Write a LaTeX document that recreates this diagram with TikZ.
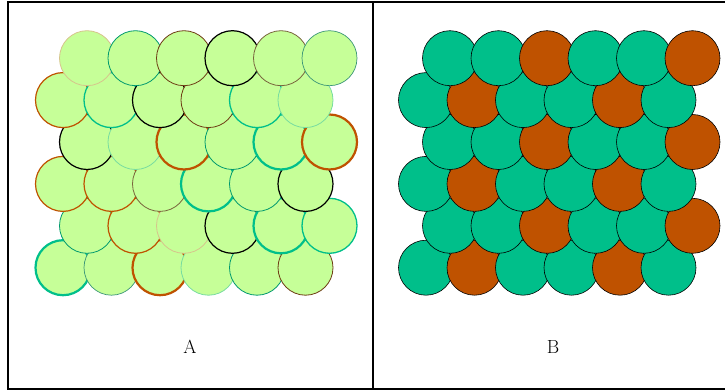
\documentclass[tikz,border=0pt]{standalone}
\usepackage{fontspec}
\setmainfont{Latin Modern Roman}
\begin{document}
\begin{tikzpicture}[x=1pt,y=-1pt,
  base/.style={circle,inner sep=0pt,minimum size=55pt},
  acirc/.style={base,fill=lightg},
  bcirc/.style={base,draw=black,line width=0.6pt},
  fg/.style={fill=sea},
  fb/.style={fill=rust},
  bm/.style={draw=rust,line width=1.2pt},
  bk/.style={draw=rust,line width=2.2pt},
  gt/.style={draw=sea!80!black,line width=0.8pt},
  gm/.style={draw=sea,line width=1.3pt},
  gk/.style={draw=sea,line width=2.2pt},
  km/.style={draw=black,line width=1.2pt},
  pt/.style={draw=tan,line width=0.8pt},
  lg/.style={draw=paleg,line width=0.8pt},
  db/.style={draw=dbrown,line width=0.8pt},
  ol/.style={draw=olive2,line width=0.8pt},
  tg/.style={draw=tealg,line width=0.7pt},
  frame/.style={line width=2pt},
  lab/.style={font=\fontsize{19}{22}\selectfont}
]
\definecolor{lightg}{RGB}{198,255,152}
\definecolor{sea}{RGB}{0,191,138}
\definecolor{rust}{RGB}{191,82,0}
\definecolor{tan}{RGB}{214,196,140}
\definecolor{paleg}{RGB}{120,220,160}
\definecolor{dbrown}{RGB}{110,60,20}
\definecolor{olive2}{RGB}{120,100,60}
\definecolor{tealg}{RGB}{60,150,120}
\useasboundingbox (0,0) rectangle (725,390);
% frame
\draw[frame] (725,2) -- (8,2) -- (8,389) -- (725,389);
\draw[frame] (373,2) -- (373,389);
% panel A (drawn bottom row first)
\foreach \st [count=\i] in {gk,tg,bk,lg,gt,db}
  \node[acirc,\st] (a6\i) at ({63+(\i-1)*48.5},267.7) {};
\foreach \st [count=\i] in {gt,bm,pt,km,gk,gm}
  \node[acirc,\st] (a5\i) at ({87+(\i-1)*48.5},225.8) {};
\foreach \st [count=\i] in {bm,bm,ol,gk,gt,km}
  \node[acirc,\st] (a4\i) at ({63+(\i-1)*48.5},183.9) {};
\foreach \st [count=\i] in {km,lg,bk,gt,gk,bk}
  \node[acirc,\st] (a3\i) at ({87+(\i-1)*48.5},142) {};
\foreach \st [count=\i] in {bm,gm,km,db,gm,lg}
  \node[acirc,\st] (a2\i) at ({63+(\i-1)*48.5},100.1) {};
\foreach \st [count=\i] in {pt,gt,db,km,ol,tg}
  \node[acirc,\st] (a1\i) at ({87+(\i-1)*48.5},58.2) {};
% panel B
\foreach \st [count=\i] in {fg,fb,fg,fg,fb,fg}
  \node[bcirc,\st] (b6\i) at ({426+(\i-1)*48.5},267.7) {};
\foreach \st [count=\i] in {fg,fg,fb,fg,fg,fb}
  \node[bcirc,\st] (b5\i) at ({450+(\i-1)*48.5},225.8) {};
\foreach \st [count=\i] in {fg,fb,fg,fg,fb,fg}
  \node[bcirc,\st] (b4\i) at ({426+(\i-1)*48.5},183.9) {};
\foreach \st [count=\i] in {fg,fg,fb,fg,fg,fb}
  \node[bcirc,\st] (b3\i) at ({450+(\i-1)*48.5},142) {};
\foreach \st [count=\i] in {fg,fb,fg,fg,fb,fg}
  \node[bcirc,\st] (b2\i) at ({426+(\i-1)*48.5},100.1) {};
\foreach \st [count=\i] in {fg,fg,fb,fg,fg,fb}
  \node[bcirc,\st] (b1\i) at ({450+(\i-1)*48.5},58.2) {};
% labels
\node[lab] (la) at (190,347) {A};
\node[lab] (lb) at (553,347) {B};
\end{tikzpicture}
\end{document}
